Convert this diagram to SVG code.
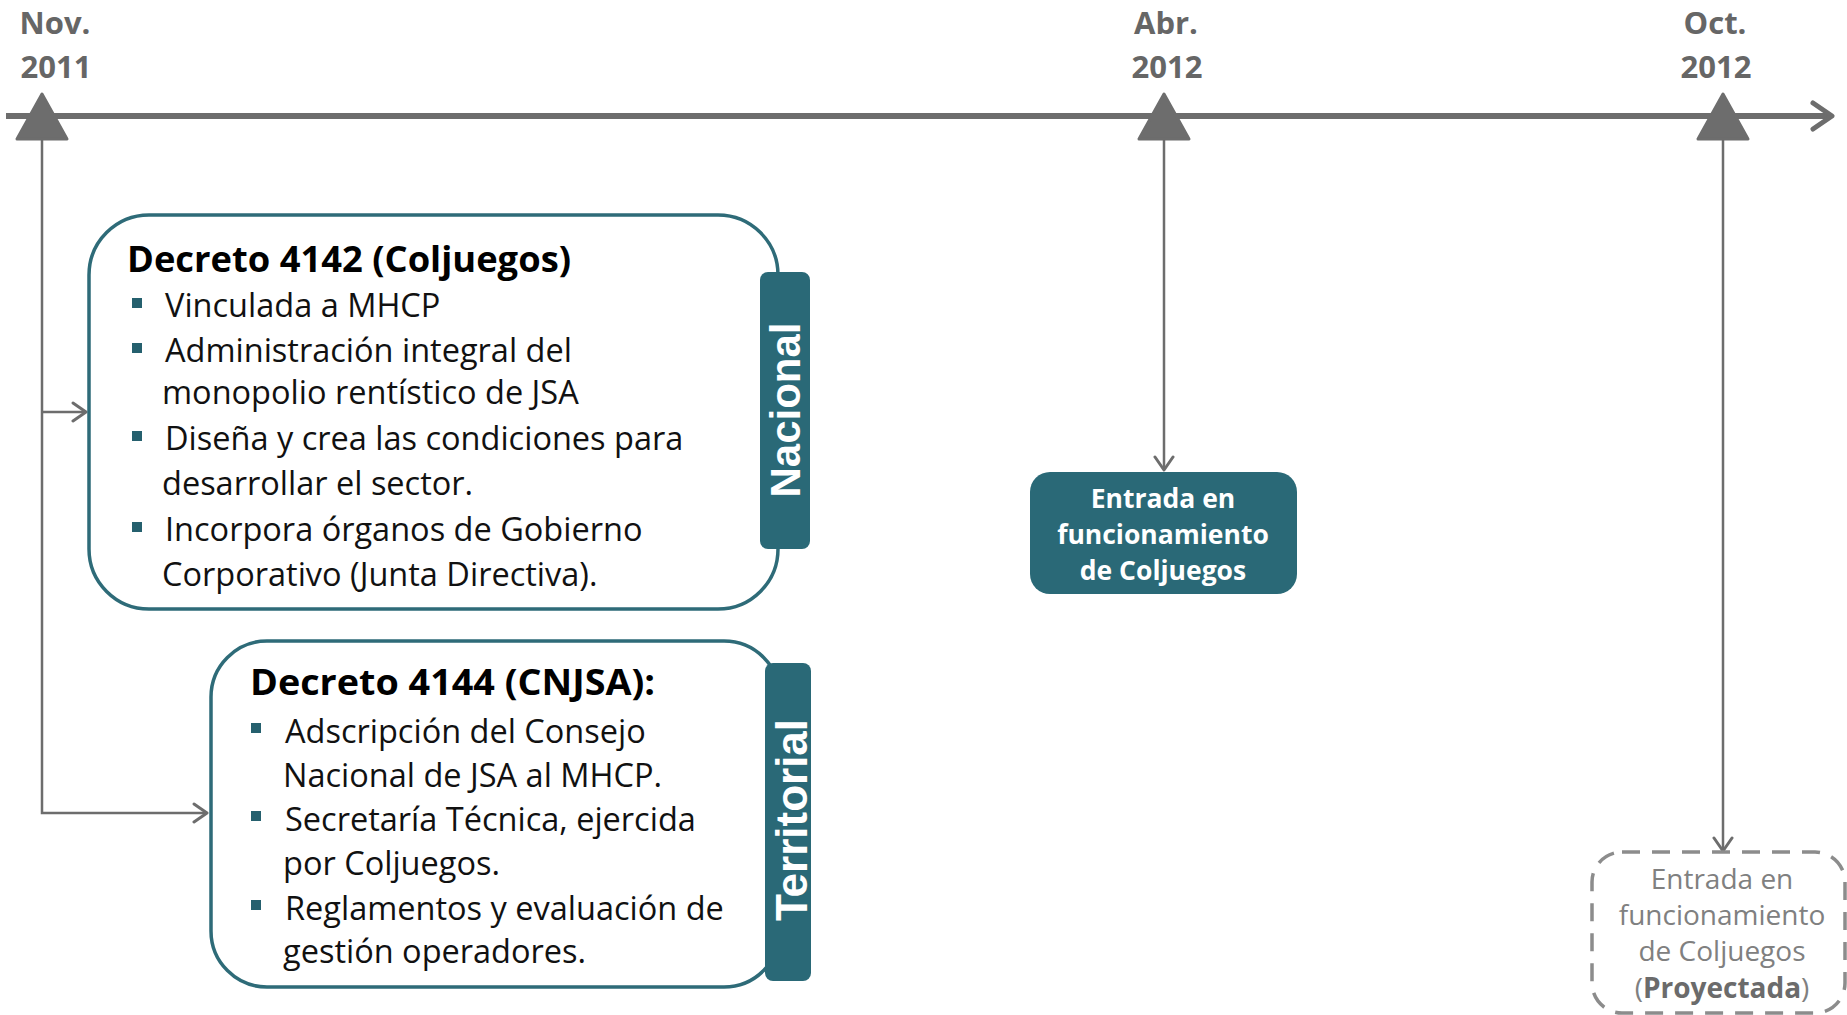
<svg xmlns="http://www.w3.org/2000/svg" width="1847" height="1015" viewBox="0 0 1847 1015">
<defs>
<style>
.date{font-family:"Open Sans",sans-serif;font-weight:bold;font-size:31px;fill:#666666;text-anchor:middle}
.box{fill:#ffffff;stroke:#2e6b78;stroke-width:3.5}
.tab{fill:#2a6977}
.tabtxt{font-family:"Liberation Sans",Arial,sans-serif;font-weight:bold;font-size:42px;fill:#ffffff;text-anchor:middle}
.title{font-family:"Open Sans",sans-serif;font-weight:bold;font-size:36px;fill:#000000}
.item{font-family:"Open Sans",sans-serif;font-size:32.5px;fill:#111111}
.bul{fill:#25606e}
.conn{stroke:#6d6d6d;stroke-width:2.5;fill:none}
.ent{font-family:"Open Sans",sans-serif;font-weight:bold;font-size:26.5px;fill:#ffffff;text-anchor:middle}
.proj{font-family:"Open Sans",sans-serif;font-size:28px;fill:#808080;text-anchor:middle}
</style>
<marker id="chev" markerUnits="userSpaceOnUse" markerWidth="20" markerHeight="24" refX="15" refY="10" orient="auto" viewBox="0 0 20 20">
<path d="M2,1 L15,10 L2,19" fill="none" stroke="#6d6d6d" stroke-width="3" stroke-linecap="round" stroke-linejoin="round"/>
</marker>
<marker id="bigchev" markerUnits="userSpaceOnUse" markerWidth="28" markerHeight="32" refX="22" refY="15" orient="auto" viewBox="0 0 28 30">
<path d="M3,2 L22,15 L3,28" fill="none" stroke="#6d6d6d" stroke-width="5" stroke-linecap="round" stroke-linejoin="round"/>
</marker>
</defs>

<g id="connectors">
<line class="conn" x1="6" y1="116" x2="1832" y2="116" marker-end="url(#bigchev)" style="stroke-width:6"/>
<polyline class="conn" points="42,139 42,813 207,813" marker-end="url(#chev)"/>
<polyline class="conn" points="42,412 86,412" marker-end="url(#chev)"/>
<line class="conn" x1="1164" y1="139" x2="1164" y2="470" marker-end="url(#chev)"/>
<line class="conn" x1="1723" y1="139" x2="1723" y2="851" marker-end="url(#chev)"/>
</g>

<g id="markers">
<polygon points="42,94 67,139 17,139" fill="#6d6d6d" stroke="#6d6d6d" stroke-width="3" stroke-linejoin="round"/>
<polygon points="1164,94 1189,139 1139,139" fill="#6d6d6d" stroke="#6d6d6d" stroke-width="3" stroke-linejoin="round"/>
<polygon points="1723,94 1748,139 1698,139" fill="#6d6d6d" stroke="#6d6d6d" stroke-width="3" stroke-linejoin="round"/>
</g>

<g id="date-nov">
<text class="date" x="55" y="34">Nov.</text>
<text class="date" x="56" y="78">2011</text>
</g>
<g id="date-abr">
<text class="date" x="1166" y="34">Abr.</text>
<text class="date" x="1167" y="78">2012</text>
</g>
<g id="date-oct">
<text class="date" x="1715" y="34">Oct.</text>
<text class="date" x="1716" y="78">2012</text>
</g>

<g id="decreto-4142">
<rect class="box" x="89" y="215" width="689" height="394" rx="60" ry="60"/>
<rect class="tab" x="760" y="272" width="50" height="277" rx="8" ry="8"/>
<text class="tabtxt" transform="translate(800,410) rotate(-90)">Nacional</text>
<text class="title" x="127" y="272" textLength="444" lengthAdjust="spacingAndGlyphs">Decreto 4142 (Coljuegos)</text>
<rect class="bul" x="132" y="298" width="10" height="10"/>
<text class="item" x="165" y="317">Vinculada a MHCP</text>
<rect class="bul" x="132" y="343" width="10" height="10"/>
<text class="item" x="165" y="362">Administración integral del</text>
<text class="item" x="162" y="404">monopolio rentístico de JSA</text>
<rect class="bul" x="132" y="431" width="10" height="10"/>
<text class="item" x="165" y="450">Diseña y crea las condiciones para</text>
<text class="item" x="162" y="495">desarrollar el sector.</text>
<rect class="bul" x="132" y="522" width="10" height="10"/>
<text class="item" x="165" y="541">Incorpora órganos de Gobierno</text>
<text class="item" x="162" y="586">Corporativo (Junta Directiva).</text>
</g>

<g id="decreto-4144">
<rect class="box" x="211" y="641" width="569" height="346" rx="56" ry="56"/>
<rect class="tab" x="765" y="663" width="46" height="318" rx="8" ry="8"/>
<text class="tabtxt" transform="translate(807,820) rotate(-90)" style="font-size:44px">Territorial</text>
<text class="title" x="250" y="695" textLength="405" lengthAdjust="spacingAndGlyphs">Decreto 4144 (CNJSA):</text>
<rect class="bul" x="251" y="723" width="10" height="10"/>
<text class="item" x="285" y="743">Adscripción del Consejo</text>
<text class="item" x="283" y="787">Nacional de JSA al MHCP.</text>
<rect class="bul" x="251" y="811" width="10" height="10"/>
<text class="item" x="285" y="831">Secretaría Técnica, ejercida</text>
<text class="item" x="283" y="875">por Coljuegos.</text>
<rect class="bul" x="251" y="900" width="10" height="10"/>
<text class="item" x="285" y="920">Reglamentos y evaluación de</text>
<text class="item" x="283" y="963">gestión operadores.</text>
</g>

<g id="entrada">
<rect x="1030" y="472" width="267" height="122" rx="20" ry="20" fill="#2a6977"/>
<text class="ent" x="1163" y="508">Entrada en</text>
<text class="ent" x="1163" y="544">funcionamiento</text>
<text class="ent" x="1163" y="580">de Coljuegos</text>
</g>

<g id="entrada-proyectada">
<rect x="1592" y="852" width="253" height="161" rx="30" ry="30" fill="none" stroke="#8c8c8c" stroke-width="3.5" stroke-dasharray="18,12"/>
<text class="proj" x="1722" y="889">Entrada en</text>
<text class="proj" x="1722" y="925">funcionamiento</text>
<text class="proj" x="1722" y="961">de Coljuegos</text>
<text class="proj" x="1722" y="998">(<tspan font-weight="bold" fill="#6b6b6b">Proyectada</tspan>)</text>
</g>
</svg>
